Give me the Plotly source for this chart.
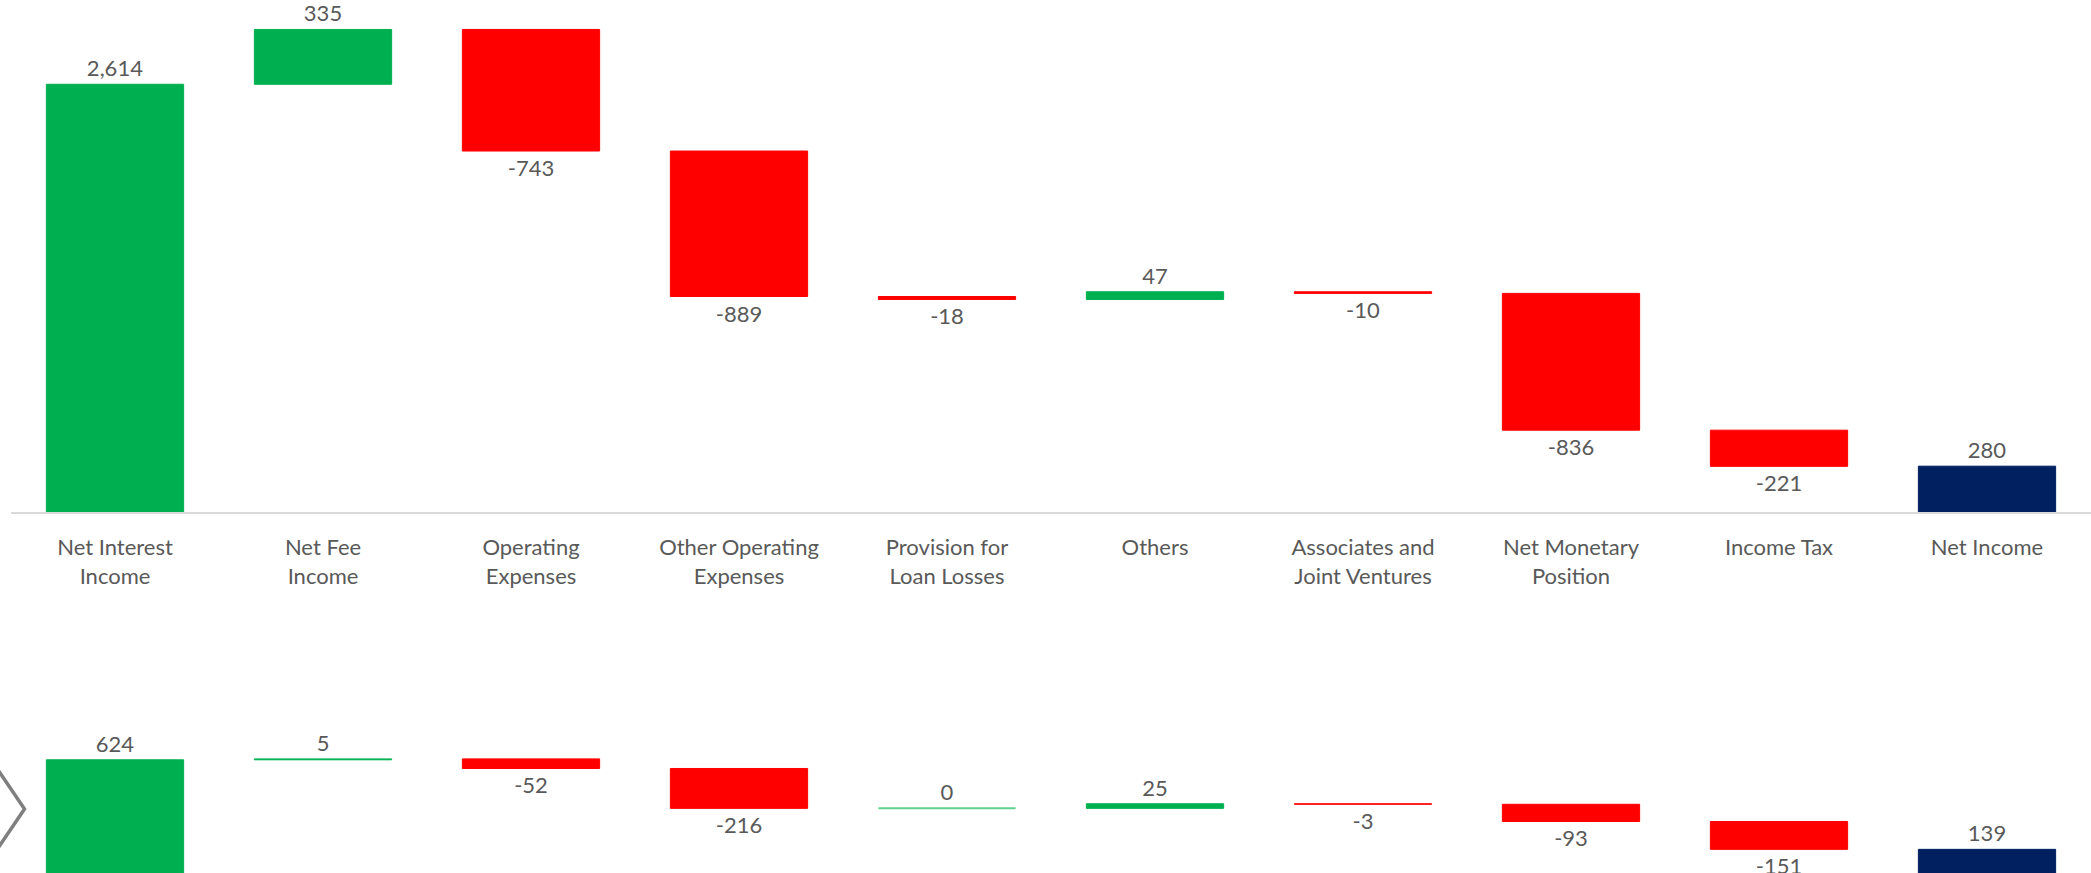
import plotly.graph_objects as go
from plotly.subplots import make_subplots

categories = ["Net Interest<br>Income", "Net Fee<br>Income", "Operating<br>Expenses",
              "Other Operating<br>Expenses", "Provision for<br>Loan Losses", "Others",
              "Associates and<br>Joint Ventures", "Net Monetary<br>Position",
              "Income Tax", "Net Income"]
measures = ["relative"] * 9 + ["absolute"]
top_values = [2614, 335, -743, -889, -18, 47, -10, -836, -221, 280]
bottom_values = [624, 5, -52, -216, 0, 25, -3, -93, -151, 139]

GREEN = "#00B050"
RED = "#FF0000"
NAVY = "#002060"
TEXT = "#595959"
FONT = "Lato, Carlito, Calibri, sans-serif"
ZERO_MARK_SIZE = 98  # line-ew marker size giving a bar-wide line

fig = make_subplots(rows=2, cols=1, shared_xaxes=False, vertical_spacing=0)


def wf(values):
    return go.Waterfall(
        x=categories, y=values, measure=measures,
        text=[f"{v:,}" for v in values], textposition="outside",
        textfont=dict(size=22, color=TEXT, family=FONT),
        increasing=dict(marker=dict(color=GREEN, line=dict(color=GREEN, width=1))),
        decreasing=dict(marker=dict(color=RED, line=dict(color=RED, width=1))),
        totals=dict(marker=dict(color=NAVY, line=dict(color=NAVY, width=1))),
        connector=dict(visible=False),
        showlegend=False, cliponaxis=False,
    )


def zero_marks(values):
    # zero-valued steps are drawn by Excel as a thin line at the running level
    xs, ys, level = [], [], 0
    for c, v, m in zip(categories, values, measures):
        if m == "relative":
            if v == 0:
                xs.append(c)
                ys.append(level)
            level += v
    return go.Scatter(x=xs, y=ys, mode="markers", hoverinfo="skip", showlegend=False,
                      marker=dict(symbol="line-ew", size=ZERO_MARK_SIZE,
                                  line=dict(color="#5FD08E", width=2)),
                      cliponaxis=False)


fig.add_trace(wf(top_values), row=1, col=1)
fig.add_trace(zero_marks(top_values), row=1, col=1)
fig.add_trace(wf(bottom_values), row=2, col=1)
fig.add_trace(zero_marks(bottom_values), row=2, col=1)

fig.update_layout(
    width=2091, height=873,
    margin=dict(l=11, r=0, t=0, b=0),
    paper_bgcolor="white", plot_bgcolor="white",
    waterfallgap=0.34,
    font=dict(family=FONT, color=TEXT),
    xaxis=dict(domain=[0, 1], showgrid=False, showline=True, linecolor="#D9D9D9",
               linewidth=2, ticks="outside", ticklen=15, tickcolor="rgba(0,0,0,0)",
               tickfont=dict(size=22, color=TEXT, family=FONT), anchor="y"),
    yaxis=dict(domain=[1 - 512 / 873, 1], range=[0, 3129], visible=False,
               showgrid=False, zeroline=False),
    xaxis2=dict(domain=[0, 1], showgrid=False, showline=False, showticklabels=False,
                ticks="", anchor="y2"),
    yaxis2=dict(domain=[0, 0.25], range=[10.9, 1193], visible=False,
                showgrid=False, zeroline=False),
    shapes=[dict(type="path", xref="paper", yref="paper",
                 path="M -0.0065 0.1190 L 0.0065 0.0733 L -0.0065 0.0276",
                 line=dict(color="#7F7F7F", width=3.5))],
)

fig.write_html("out.html", config={"displayModeBar": False},
               post_script="document.body.style.margin='0';")
